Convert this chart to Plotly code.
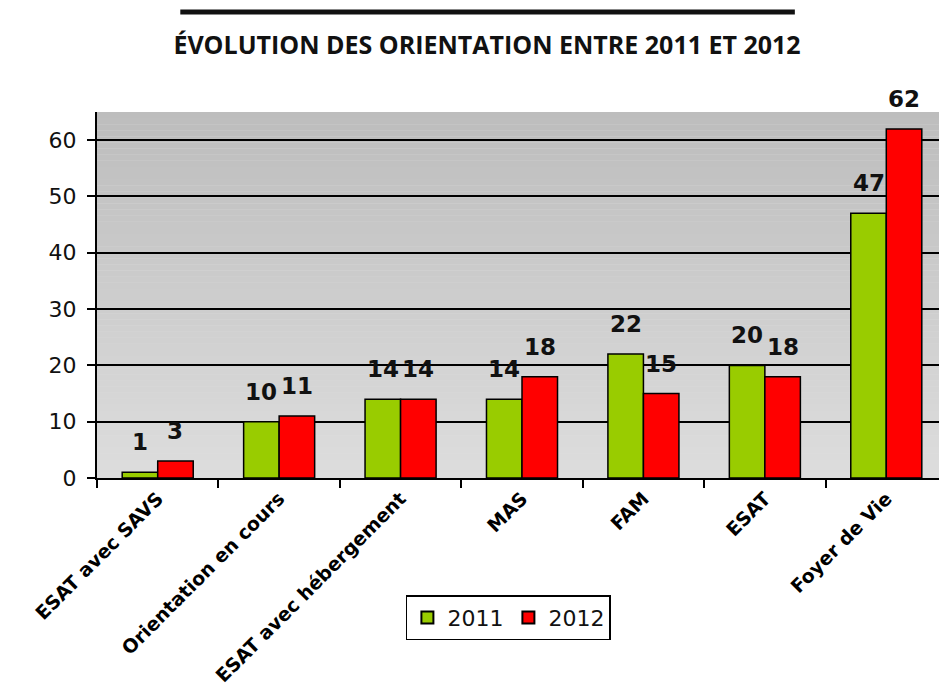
import plotly.graph_objects as go

categories = ["ESAT avec SAVS", "Orientation en cours", "ESAT avec hébergement",
              "MAS", "FAM", "ESAT", "Foyer de Vie"]
values_2011 = [1, 10, 14, 14, 22, 20, 47]
values_2012 = [3, 11, 14, 18, 15, 18, 62]

GREEN = "#99CC00"
RED = "#FF0000"
Y_MAX = 65

# page body adds 8px margin, so the figure is drawn 8px smaller
W, H = 939, 683

fig = go.Figure()
for name, vals, color in [("2011", values_2011, GREEN), ("2012", values_2012, RED)]:
    fig.add_trace(go.Bar(
        x=categories, y=vals, name=name,
        marker=dict(color=color, line=dict(color="black", width=1.5)),
    ))

# data labels, above each bar
group_w = 850 / len(categories) * (1 - 0.415)
for k, vals in enumerate([values_2011, values_2012]):
    shift = (k - 0.5) * group_w / 2
    for c, v in zip(categories, vals):
        fig.add_annotation(
            x=c, y=v, text=f"<b>{v}</b>", showarrow=False,
            xshift=shift, yshift=15, yanchor="bottom",
            font=dict(family="DejaVu Sans", size=23, color="#111"),
        )

# grey vertical gradient behind the plot area
shapes = []
n = 60
for i in range(n):
    t = i / (n - 1)
    g = round(221 - t * (221 - 189))
    shapes.append(dict(
        type="rect", xref="paper", x0=0, x1=1, yref="y",
        y0=Y_MAX * i / n, y1=Y_MAX * (i + 1) / n,
        fillcolor=f"rgb({g},{g},{g})", line=dict(width=0), layer="below",
    ))
# thick line above the title
shapes.append(dict(type="line", xref="paper", yref="paper",
                   x0=0.098, x1=0.821, y0=1.273, y1=1.273,
                   line=dict(color="#111", width=5)))

fig.update_layout(
    width=W, height=H,
    margin=dict(l=89, r=0, t=104, b=213),
    paper_bgcolor="white", plot_bgcolor="rgb(221,221,221)",
    barmode="group", bargap=0.415, bargroupgap=0,
    shapes=shapes,
    title=dict(
        text="<b>ÉVOLUTION DES ORIENTATION ENTRE 2011 ET 2012</b>",
        xref="container", x=479 / W, xanchor="center",
        yref="container", y=1 - 37 / H, yanchor="middle",
        font=dict(family="Open Sans", size=25, color="#111"),
    ),
    xaxis=dict(
        tickangle=-45, tickson="boundaries", ticks="outside", ticklen=8,
        tickwidth=1.5, tickcolor="black",
        showline=True, linecolor="black", linewidth=2,
        tickfont=dict(family="DejaVu Sans", size=19, color="black", weight="bold"),
    ),
    yaxis=dict(
        range=[0, Y_MAX], dtick=10, ticks="outside", ticklen=8,
        tickwidth=1.5, tickcolor="black", ticklabelstandoff=6,
        showline=True, linecolor="black", linewidth=2,
        showgrid=True, gridcolor="black", gridwidth=1.5, zeroline=False,
        tickfont=dict(family="DejaVu Sans", size=22, color="#111"),
    ),
    legend=dict(
        orientation="h", x=0.484, xanchor="center", y=-0.32, yanchor="top",
        bordercolor="black", borderwidth=1.5, bgcolor="white",
        font=dict(family="DejaVu Sans", size=22, color="#111"),
        itemsizing="constant",
    ),
)

fig.write_html("out.html")
